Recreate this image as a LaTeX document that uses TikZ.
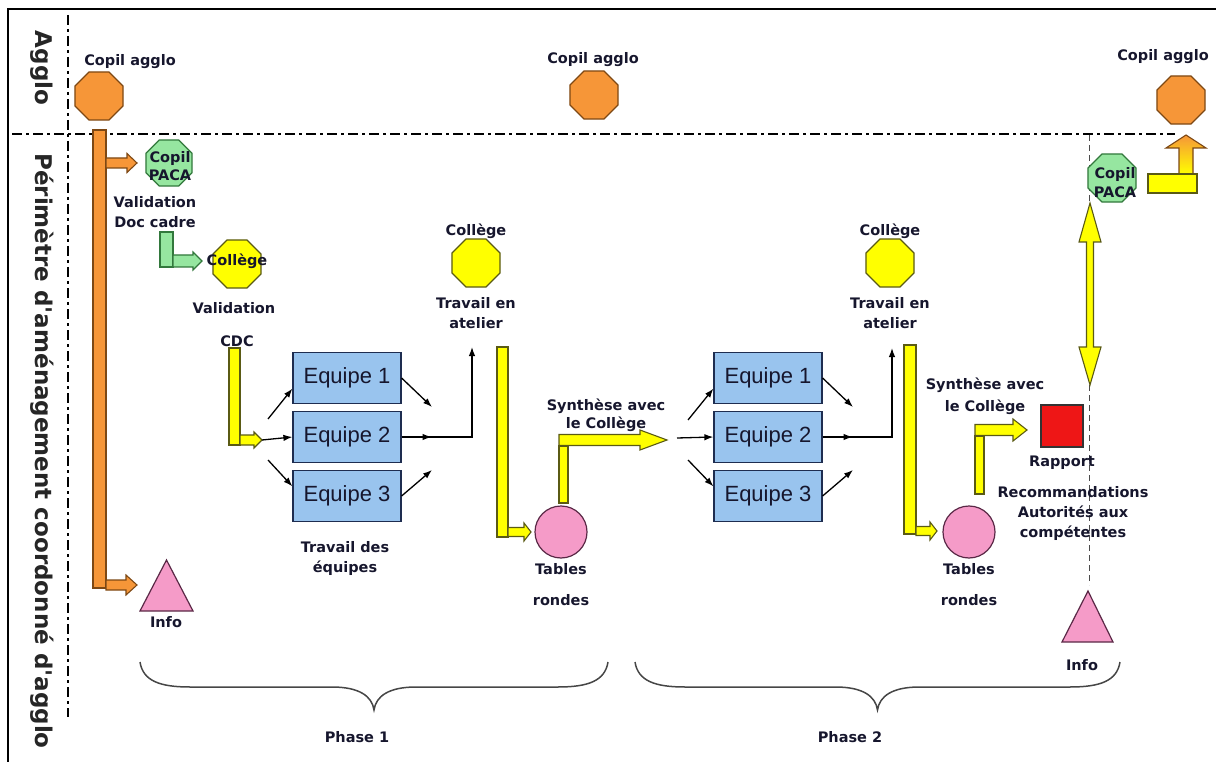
\documentclass[tikz,border=0pt]{standalone}
\usepackage{fontspec}
\setmainfont{Liberation Sans}
\newfontfamily\labelfont{DejaVu Sans}
\usetikzlibrary{arrows.meta,shapes.geometric}

\definecolor{agglo}{RGB}{246,150,56}
\definecolor{aggloedge}{RGB}{125,72,20}
\definecolor{paca}{RGB}{150,230,160}
\definecolor{pacaedge}{RGB}{50,120,60}
\definecolor{jaune}{RGB}{255,255,0}
\definecolor{jauneedge}{RGB}{90,90,20}
\definecolor{equipe}{RGB}{153,196,238}
\definecolor{equipeedge}{RGB}{30,45,80}
\definecolor{rose}{RGB}{245,155,200}
\definecolor{roseedge}{RGB}{90,40,70}
\definecolor{rapport}{RGB}{238,22,22}
\definecolor{encre}{RGB}{22,22,45}
\definecolor{accolade}{RGB}{70,70,70}

\def\fatright[#1](#2,#3)(#4)(#5/#6/#7){\draw[#1] (#2,{#3-#5}) -- ({#4-#6},{#3-#5}) -- ({#4-#6},{#3-#7}) -- (#4,#3) -- ({#4-#6},{#3+#7}) -- ({#4-#6},{#3+#5}) -- (#2,{#3+#5}) -- cycle;}
\def\phasebrace(#1:#2){\draw[line width=1.5pt, color=accolade] (#1,662) .. controls ({#1+3},681) and ({#1+20},687) .. ({#1+50},687) -- ({(#1+#2)/2-42},687) .. controls ({(#1+#2)/2-15},687) and ({(#1+#2)/2-2},696) .. ({(#1+#2)/2},710) .. controls ({(#1+#2)/2+2},696) and ({(#1+#2)/2+15},687) .. ({(#1+#2)/2+42},687) -- ({#2-50},687) .. controls ({#2-20},687) and ({#2-3},681) .. (#2,662);}

\begin{document}
\begin{tikzpicture}[x=1pt, y=-1pt,
	octo/.style={regular polygon, regular polygon sides=8, minimum size=52pt, inner sep=0pt, draw, line width=1.2pt},
	eqbox/.style={rectangle, draw=equipeedge, fill=equipe, line width=1.2pt, minimum width=108pt, minimum height=51pt, inner sep=0pt, text=encre, font=\fontsize{22}{24}\selectfont},
	lbl/.style={font=\labelfont\bfseries\fontsize{14.5}{20}\selectfont, text=encre, align=center, inner sep=0pt},
	vlbl/.style={rotate=-90, font=\labelfont\bfseries\fontsize{23}{26}\selectfont, text=black!85, inner sep=0pt},
	fleche/.style={line width=1.3pt, -{Latex[length=9pt,width=6.5pt]}},
	sep/.style={line width=2.5pt, dash pattern=on 10pt off 4pt on 3pt off 4pt},
	fatorange/.style={fill=agglo, draw=aggloedge, line width=1.1pt},
	fatgreen/.style={fill=paca, draw=pacaedge, line width=1.1pt},
	fatyellow/.style={fill=jaune, draw=jauneedge, line width=1.1pt}]
			%%%%% START %%%%%
			\useasboundingbox (0,0) rectangle (1216,762);
			\draw[line width=2.2pt] (8,762) -- (8,9) -- (1216,9);
			
			\draw[sep] (68,15) -- (68,717);
			\draw[sep] (12,134) -- (1175,134);
			\node[vlbl] (agglo) at (42,68) {Agglo};
			\node[vlbl] (perim) at (42,451) {Périmètre d'aménagement coordonné d'agglo};
			
			\draw[fatorange] (93,130) rectangle (106,588);
			\fatright[fatorange](106,163)(137)(5/10/9.5)
			\fatright[fatorange](106,585)(137)(5/11/10)
			
			\draw[fatgreen] (160,232) rectangle (173,267);
			\fatright[fatgreen](173,261)(202)(6/9/9)
			
			\draw[fatyellow] (229,348) rectangle (240,445);
			\fatright[fatyellow](240,440)(262)(5/8/8)
			
			\draw[fatyellow] (497,347) rectangle (508,537);
			\fatright[fatyellow](508,532)(531)(4.5/7/9)
			\draw[fatyellow] (559,446) rectangle (568,503);
			\fatright[fatyellow](559,440)(667)(5.5/27/10)
			
			\draw[fatyellow] (904,345) rectangle (916,534);
			\fatright[fatyellow](916,531)(937)(4.5/7/9)
			\draw[fatyellow] (975,436) rectangle (984,494);
			\fatright[fatyellow](975,430)(1027)(5.5/14/11)
			
			\shade[top color=agglo, bottom color=jaune, draw=aggloedge, line width=1.1pt] (1179,174) -- (1179,148) -- (1166,148) -- (1186,135) -- (1206,148) -- (1193,148) -- (1193,174) -- cycle;
			\draw[fatyellow] (1148,174) rectangle (1197,193);
			
			\draw[line width=1pt, color=black!70, dash pattern=on 6pt off 4pt] (1089,135) -- (1089,585);
			\draw[fatyellow] (1090,203) -- (1101,242) -- (1093.5,242) -- (1093.5,347) -- (1101,347) -- (1090,385) -- (1079,347) -- (1086.5,347) -- (1086.5,242) -- (1079,242) -- cycle;
			
			% comites
			\node[octo, fill=agglo, draw=aggloedge] (copil1) at (99,96) {};
			\node[octo, fill=agglo, draw=aggloedge] (copil2) at (594,95) {};
			\node[octo, fill=agglo, draw=aggloedge] (copil3) at (1181,100) {};
			\node[octo, fill=paca, draw=pacaedge, minimum size=50pt] (paca1) at (169,163) {};
			\node[octo, fill=paca, draw=pacaedge] (paca2) at (1112,178) {};
			\node[octo, fill=jaune, draw=jauneedge] (coll0) at (237,264) {};
			\node[octo, fill=jaune, draw=jauneedge] (coll1) at (476,263) {};
			\node[octo, fill=jaune, draw=jauneedge] (coll2) at (890,263) {};
			
			% equipes
			\node[eqbox] (eq11) at (347,378) {Equipe 1};
			\node[eqbox] (eq12) at (347,437) {Equipe 2};
			\node[eqbox] (eq13) at (347,496) {Equipe 3};
			\node[eqbox] (eq21) at (768,378) {Equipe 1};
			\node[eqbox] (eq22) at (768,437) {Equipe 2};
			\node[eqbox] (eq23) at (768,496) {Equipe 3};
			
			\node[circle, draw=roseedge, fill=rose, line width=1.2pt, minimum size=52pt, inner sep=0pt] (tab1) at (561,532) {};
			\node[circle, draw=roseedge, fill=rose, line width=1.2pt, minimum size=52pt, inner sep=0pt] (tab2) at (969,532) {};
			\node[rectangle, draw=black!80, fill=rapport, line width=1.2pt, minimum size=42pt, inner sep=0pt] (rap) at (1062,426) {};
			
			\draw[fill=rose, draw=roseedge, line width=1.2pt] (140,611) -- (166.5,560) -- (193,611) -- cycle;
			\draw[fill=rose, draw=roseedge, line width=1.2pt] (1062,642) -- (1088,591) -- (1113,642) -- cycle;
			
			% fleches phase 1
			\coordinate (f11) at (268,419);
			\coordinate (f12) at (262,440);
			\coordinate (f13) at (268,460);
			\draw[fleche] (f11) -- (eq11.191);
			\draw[fleche] (f12) -- (eq12.west);
			\draw[fleche] (f13) -- (eq13.170);
			\coordinate (j11) at (432,407);
			\coordinate (j13) at (432,470);
			\coordinate (up1) at (472,347);
			\draw[fleche] (eq11.east) -- (j11);
			\draw[fleche] (eq13.east) -- (j13);
			\draw[fleche] (eq12.east) -- ++(30,0);
			\draw[fleche] (eq12.east) -- (eq12.east -| up1) -- (up1);
			
			% fleches phase 2
			\coordinate (f21) at (688,420);
			\coordinate (f22) at (677,438);
			\coordinate (f23) at (688,460);
			\draw[fleche] (f21) -- (eq21.191);
			\draw[fleche] (f22) -- (eq22.west);
			\draw[fleche] (f23) -- (eq23.170);
			\coordinate (j21) at (853,407);
			\coordinate (j23) at (853,470);
			\coordinate (up2) at (892,348);
			\draw[fleche] (eq21.east) -- (j21);
			\draw[fleche] (eq23.east) -- (j23);
			\draw[fleche] (eq22.east) -- ++(30,0);
			\draw[fleche] (eq22.east) -- (eq22.east -| up2) -- (up2);
			
			\phasebrace(140:608)
			\phasebrace(635:1120)
			
			% textes
			\node[lbl] (t-copil1) at (130,62) {Copil agglo};
			\node[lbl] (t-copil2) at (593,60) {Copil agglo};
			\node[lbl] (t-copil3) at (1163,57) {Copil agglo};
			\node[lbl] (t-paca1) at (170,166) {Copil\\[-2pt]PACA};
			\node[lbl] (t-paca2) at (1115,183) {Copil\\[-1pt]PACA};
			\node[lbl] (t-valid1) at (155,212) {Validation\\Doc cadre};
			\node[lbl] (t-coll0) at (237,261) {Collège};
			\node[lbl] (t-valid2) at (234,308) {Validation};
			\node[lbl] (t-cdc) at (237,341) {CDC};
			\node[lbl] (t-coll1) at (476,231) {Collège};
			\node[lbl] (t-atel1) at (476,313) {Travail en\\atelier};
			\node[lbl] (t-coll2) at (890,231) {Collège};
			\node[lbl] (t-atel2) at (890,313) {Travail en\\atelier};
			\node[lbl] (t-travail) at (345,558) {Travail des\\équipes};
			\node[lbl] (t-tab1) at (561,585) {Tables\\[11pt]rondes};
			\node[lbl] (t-tab2) at (969,585) {Tables\\[11pt]rondes};
			\node[lbl] (t-syn1) at (606,415) {Synthèse avec\\[-2pt]le Collège};
			\node[lbl] (t-syn2) at (985,396) {Synthèse avec\\[2pt]le Collège};
			\node[lbl] (t-rap) at (1062,463) {Rapport};
			\node[lbl] (t-reco) at (1073,513) {Recommandations\\Autorités aux\\compétentes};
			\node[lbl] (t-info1) at (166,622) {Info};
			\node[lbl] (t-info2) at (1082,665) {Info};
			\node[lbl] (t-ph1) at (357,737) {Phase 1};
			\node[lbl] (t-ph2) at (850,737) {Phase 2};
			%%%%% END %%%%%
\end{tikzpicture}
\end{document}
